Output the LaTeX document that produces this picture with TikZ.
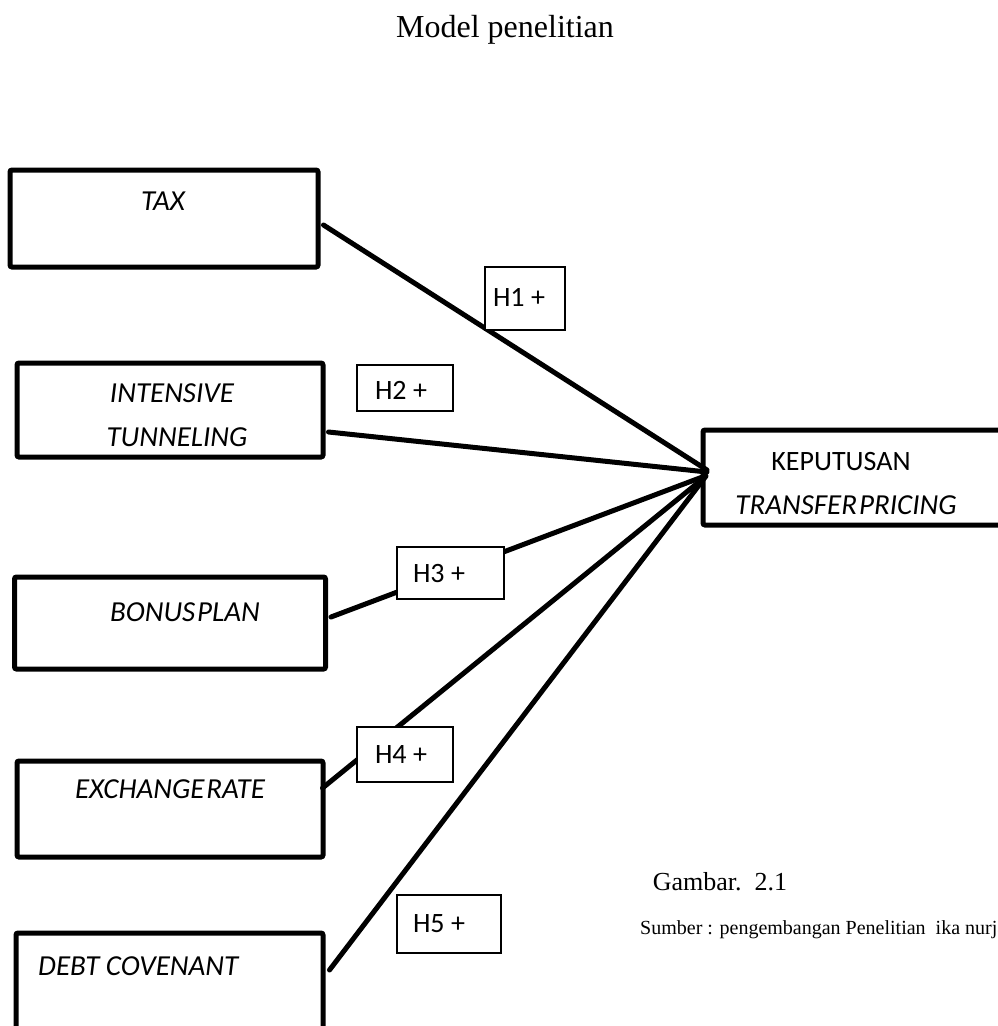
\documentclass[tikz,border=0pt]{standalone}
\usepackage{fontspec}
\setmainfont{Liberation Serif}
\newfontfamily\calfont{Carlito}
\usetikzlibrary{calc}
\begin{document}
\begin{tikzpicture}[x=1pt,y=-1pt,
  bigbox/.style={draw, line width=5pt, rounded corners=2pt, fill=white, inner sep=0pt},
  hbox/.style={draw, line width=1.6pt, fill=white, inner sep=0pt},
  vartext/.style={font=\calfont\itshape\fontsize{29}{34}\selectfont, inner sep=0pt},
  htext/.style={font=\calfont\fontsize{28}{34}\selectfont, inner sep=0pt},
  link/.style={line width=5pt, line cap=round}]
\useasboundingbox (0,0) rectangle (998,1026);
% title
\node (title) [font=\fontsize{32}{38}\selectfont, inner sep=0pt] at (505,30) {Model penelitian};
% variable boxes
\node (tax) [bigbox, minimum width=308pt, minimum height=97pt] at (164,218.5) {};
\node (int) [bigbox, minimum width=306pt, minimum height=94pt] at (170,410) {};
\node (bon) [bigbox, minimum width=311pt, minimum height=92pt] at (170,623) {};
\node (exc) [bigbox, minimum width=306pt, minimum height=96pt] at (170,809) {};
\node (deb) [bigbox, minimum width=307pt, minimum height=120pt] at (169.5,993) {};
\node (kep) [bigbox, minimum width=310pt, minimum height=95pt] at (858,477.5) {};
% hub points
\coordinate (hubA) at (707,470);
\coordinate (hubB) at (707,472);
\coordinate (hubC) at (705,476);
\coordinate (hubD) at (705,477);
\coordinate (hubE) at (706,476);
% connectors
\draw[link] ($(tax.east)+(3,6.5)$) -- (hubA);
\draw[link] ($(int.east)+(3,22)$) -- (hubB);
\draw[link] ($(bon.east)+(3,-6)$) -- (hubC);
\draw[link] ($(exc.east)+(-3,-21)$) -- (hubD);
\draw[link] ($(deb.east)+(4,-23)$) -- (hubE);
% texts in boxes
\node (taxt) [vartext] at (163,201) {TAX};
\node (intt1) [vartext] at (172,393) {INTENSIVE};
\node (intt2) [vartext] at (177,437) {TUNNELING};
\node (bont) [vartext] at (185,612) {BONUS\hspace{2pt}PLAN};
\node (exct) [vartext] at (170,789) {EXCHANGE\hspace{2pt}RATE};
\node (debt) [vartext, anchor=west] at (38,966) {DEBT COVENANT};
\node (kept1) [htext] at (841,462) {KEPUTUSAN};
\node (kept2) [vartext] at (846,505) {TRANSFER\hspace{2pt}PRICING};
% hypothesis boxes
\node (h1) [hbox, minimum width=80pt, minimum height=63pt] at (525,298.5) {};
\node (h2) [hbox, minimum width=96pt, minimum height=46pt] at (405,388) {};
\node (h3) [hbox, minimum width=107pt, minimum height=52pt] at (450.5,573) {};
\node (h4) [hbox, minimum width=96pt, minimum height=55pt] at (405,754.5) {};
\node (h5) [hbox, minimum width=104pt, minimum height=58pt] at (449,924) {};
\node (h1t) [htext] at (519,297) {H1 +};
\node (h2t) [htext] at (401,390) {H2 +};
\node (h3t) [htext] at (439,574) {H3 +};
\node (h4t) [htext] at (401,755) {H4 +};
\node (h5t) [htext] at (439,924) {H5 +};
% captions
\node (gambar) [font=\fontsize{26}{31}\selectfont, inner sep=0pt] at (720,882) {Gambar.\ \ 2.1};
\node (sumber) [font=\fontsize{20}{24}\selectfont, inner sep=0pt, anchor=west] at (640,930) {Sumber : pengembangan Penelitian\ \ ika nurja};
\end{tikzpicture}
\end{document}
